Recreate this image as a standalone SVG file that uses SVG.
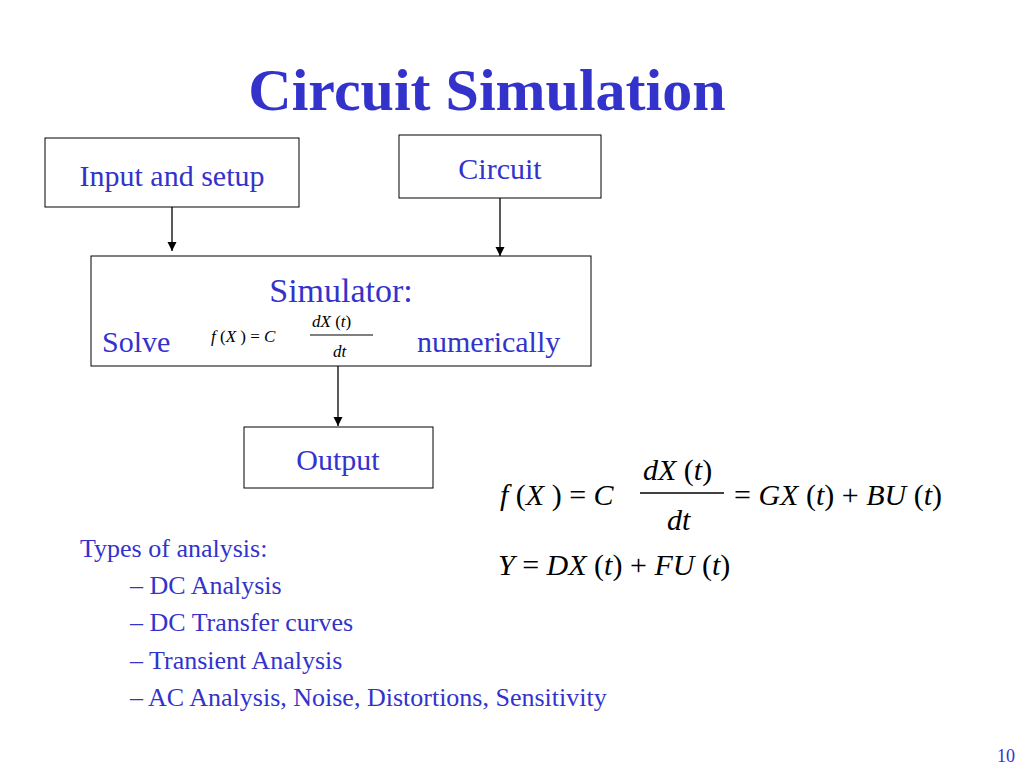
<svg xmlns="http://www.w3.org/2000/svg" width="1024" height="768" viewBox="0 0 1024 768">
<style>
.b{fill:#fff;stroke:#000;stroke-width:1}
.t{font-family:"Liberation Serif",serif;fill:#3333cc}
.m{font-family:"Liberation Serif",serif;fill:#000;font-style:italic}
.n{font-family:"Liberation Serif",serif;fill:#000}
.c{stroke:#000;stroke-width:1.3;fill:none}
</style>
<defs><marker id="a" viewBox="0 0 10 10" refX="10" refY="5" markerWidth="7" markerHeight="7" orient="auto"><path d="M0,0L10,5L0,10z" fill="#000"/></marker></defs>
<rect width="1024" height="768" fill="#fff"/>
<text class="t" x="487" y="110" font-size="60" font-weight="bold" text-anchor="middle">Circuit Simulation</text>
<g id="input"><rect class="b" x="45" y="138" width="254" height="69"/><text class="t" x="172" y="186" font-size="30" text-anchor="middle">Input and setup</text></g>
<g id="circuit"><rect class="b" x="399" y="135" width="202" height="63"/><text class="t" x="500" y="179" font-size="30" text-anchor="middle">Circuit</text></g>
<g id="simulator"><rect class="b" x="91" y="256" width="500" height="110"/>
<text class="t" x="341" y="302" font-size="34" text-anchor="middle">Simulator:</text>
<text class="t" x="102" y="352" font-size="30">Solve</text>
<text class="t" x="417" y="352" font-size="30">numerically</text>
<text class="m" x="211" y="342" font-size="17">f<tspan class="n" font-style="normal"> (</tspan>X<tspan font-style="normal"> ) = </tspan>C</text>
<text class="m" x="312" y="327" font-size="17">dX<tspan font-style="normal"> (</tspan>t<tspan font-style="normal">)</tspan></text>
<line x1="310" y1="335" x2="373" y2="335" stroke="#000"/>
<text class="m" x="333" y="357" font-size="17">dt</text>
</g>
<g id="output"><rect class="b" x="244" y="427" width="189" height="61"/><text class="t" x="338" y="470" font-size="30" text-anchor="middle">Output</text></g>
<g id="connectors">
<line class="c" x1="172" y1="207" x2="172" y2="251" marker-end="url(#a)"/>
<line class="c" x1="500" y1="198" x2="500" y2="256" marker-end="url(#a)"/>
<line class="c" x1="338" y1="366" x2="338" y2="426" marker-end="url(#a)"/>
</g>
<g id="eq" font-size="30">
<text class="m" x="500" y="505">f<tspan font-style="normal"> (</tspan>X<tspan font-style="normal"> ) = </tspan>C</text>
<text class="m" x="643" y="480">dX<tspan font-style="normal"> (</tspan>t<tspan font-style="normal">)</tspan></text>
<line x1="640" y1="493" x2="724" y2="493" stroke="#000" stroke-width="1.5"/>
<text class="m" x="667" y="530">dt</text>
<text class="m" x="734" y="505"><tspan font-style="normal">= </tspan>GX<tspan font-style="normal"> (</tspan>t<tspan font-style="normal">) + </tspan>BU<tspan font-style="normal"> (</tspan>t<tspan font-style="normal">)</tspan></text>
<text class="m" x="498" y="575">Y<tspan font-style="normal"> = </tspan>DX<tspan font-style="normal"> (</tspan>t<tspan font-style="normal">) + </tspan>FU<tspan font-style="normal"> (</tspan>t<tspan font-style="normal">)</tspan></text>
</g>
<g font-size="26">
<text class="t" x="80" y="557">Types of analysis:</text>
<text class="t" x="130" y="594">–  DC Analysis</text>
<text class="t" x="130" y="631">–  DC Transfer curves</text>
<text class="t" x="130" y="669">–  Transient Analysis</text>
<text class="t" x="130" y="706">–  AC Analysis, Noise, Distortions, Sensitivity</text>
</g>
<text class="t" x="1015" y="762" font-size="18" text-anchor="end">10</text>
</svg>
